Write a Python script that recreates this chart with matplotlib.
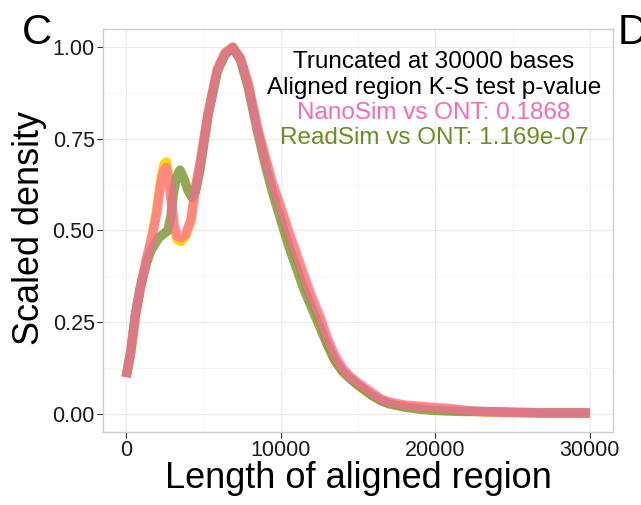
import matplotlib
matplotlib.use("Agg")
import matplotlib.pyplot as plt
from matplotlib.ticker import MultipleLocator

plt.rcParams['font.family'] = ['Liberation Sans', 'DejaVu Sans']

# ---- data ----
ont_x = [0, 300, 600, 900, 1300, 1650, 1950, 2250, 2450, 2600, 2750, 2900, 3100, 3300,
         3550, 3850, 4200, 4500, 4850, 5300, 5900, 6400, 6900, 7400, 7900, 8500, 9000,
         9500, 10000, 10500, 11000, 11500, 12000, 12500, 13000, 13500, 14000, 14500, 15000,
         15500, 16000, 16500, 17000, 18000, 19000, 20000, 21000, 22000, 23000, 24000, 25000,
         26000, 27000, 28000, 29000, 30000]
ont_y = [0.10, 0.17, 0.27, 0.34, 0.42, 0.48, 0.55, 0.64, 0.68, 0.687, 0.65, 0.585, 0.51, 0.475,
         0.47, 0.485, 0.53, 0.62, 0.70, 0.82, 0.94, 0.985, 1.00, 0.97, 0.90, 0.78, 0.70,
         0.62, 0.56, 0.49, 0.43, 0.37, 0.31, 0.26, 0.20, 0.15, 0.12, 0.10, 0.08,
         0.065, 0.05, 0.038, 0.03, 0.022, 0.019, 0.015, 0.012, 0.008, 0.005, 0.004, 0.003,
         0.003, 0.002, 0.002, 0.002, 0.002]

nano_x = ont_x
nano_y = [0.10, 0.17, 0.27, 0.34, 0.42, 0.48, 0.54, 0.63, 0.665, 0.672, 0.64, 0.585, 0.515, 0.485,
          0.48, 0.49, 0.53, 0.62, 0.70, 0.82, 0.94, 0.985, 1.00, 0.97, 0.90, 0.78, 0.70,
          0.625, 0.565, 0.50, 0.44, 0.38, 0.32, 0.27, 0.21, 0.16, 0.125, 0.10, 0.085,
          0.07, 0.055, 0.04, 0.032, 0.024, 0.02, 0.017, 0.014, 0.009, 0.006, 0.004, 0.003,
          0.003, 0.002, 0.002, 0.002, 0.002]

read_x = [0, 300, 600, 900, 1300, 1600, 2100, 2700, 2900, 3050, 3250, 3480, 3750, 4000,
          4260, 4500, 4750, 5000, 5300, 5900, 6400, 6900, 7400, 7900, 8500, 9000, 9500,
          10000, 10500, 11000, 11500, 12000, 12500, 13000, 13500, 14000, 14500, 15000, 15500,
          16000, 16500, 17000, 18000, 19000, 20000, 21000, 22000, 23000, 24000, 25000, 26000,
          27000, 28000, 29000, 30000]
read_y = [0.10, 0.17, 0.27, 0.34, 0.41, 0.445, 0.48, 0.50, 0.54, 0.60, 0.645, 0.665, 0.64, 0.61,
          0.59, 0.61, 0.66, 0.73, 0.815, 0.935, 0.98, 1.00, 0.965, 0.89, 0.77, 0.68, 0.60,
          0.53, 0.46, 0.40, 0.34, 0.29, 0.24, 0.19, 0.145, 0.115, 0.095, 0.078, 0.062,
          0.047, 0.035, 0.027, 0.018, 0.012, 0.009, 0.007, 0.006, 0.006, 0.005, 0.004, 0.003,
          0.002, 0.002, 0.002, 0.002]

x_ticks = [0, 10000, 20000, 30000]
x_tick_labels = ["0", "10000", "20000", "30000"]
y_ticks = [0.00, 0.25, 0.50, 0.75, 1.00]
y_tick_labels = ["0.00", "0.25", "0.50", "0.75", "1.00"]

annot_lines = ["Truncated at 30000 bases", "Aligned region K-S test p-value",
               "NanoSim vs ONT: 0.1868", "ReadSim vs ONT: 1.169e-07"]

# ---- figure ----
W, H = 641, 505
fig = plt.figure(figsize=(W / 100, H / 100), dpi=100)
ax = fig.add_axes([103 / W, 1 - 432 / H, (613 - 103) / W, (432 - 29) / H])

kw = dict(lw=6.8, solid_capstyle='butt', solid_joinstyle='round')
ax.plot(ont_x, ont_y, color='#FFD700', zorder=3, **kw)
ax.plot(read_x, read_y, color='#6B8E23', alpha=0.75, zorder=4, **kw)
ax.plot(nano_x, nano_y, color='#FF69B4', alpha=0.7, zorder=5, **kw)

ax.set_xlim(-1500, 31500)
ax.set_ylim(-0.05, 1.05)
ax.set_xticks(x_ticks)
ax.set_xticklabels(x_tick_labels)
ax.set_yticks(y_ticks)
ax.set_yticklabels(y_tick_labels)
ax.xaxis.set_minor_locator(MultipleLocator(5000))
ax.yaxis.set_minor_locator(MultipleLocator(0.125))
ax.grid(True, which='major', color='#ebebeb', lw=0.8, zorder=0)
ax.grid(True, which='minor', color='#f5f5f5', lw=0.6, zorder=0)
ax.tick_params(axis='both', which='major', length=4, width=0.8, color='#333333',
               labelsize=15.5, labelcolor='#1a1a1a', pad=2)
ax.tick_params(axis='both', which='minor', length=0)
for s in ax.spines.values():
    s.set_color('#cccccc')
    s.set_linewidth(1.0)

# annotation
colors = ['black', 'black', '#FF69B4', '#6B8E23']
ys = [62, 88, 113, 138]
for t, c, y in zip(annot_lines, colors, ys):
    fig.text(434 / W, 1 - y / H, t, color=c, fontsize=17.5, ha='center', va='center')

fig.text(358 / W, 1 - 478 / H, "Length of aligned region", fontsize=26, ha='center', va='center')
fig.text(30 / W, 1 - 228 / H, "Scaled density", fontsize=26, ha='center', va='center', rotation=90)
fig.text(22 / W, 1 - 33 / H, "C", fontsize=30, ha='left', va='center')
fig.text(618 / W, 1 - 33 / H, "D", fontsize=30, ha='left', va='center')

fig.savefig("out.png", dpi=100)
